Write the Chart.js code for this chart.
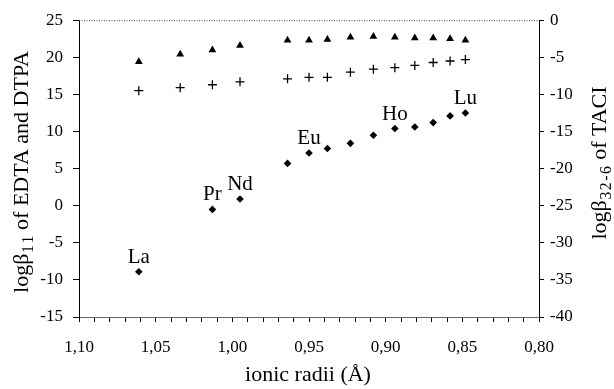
<!DOCTYPE html>
<html>
<head>
<meta charset="UTF-8">
<title>ionic radii vs logβ</title>
<script src="https://cdn.jsdelivr.net/npm/chart.js"></script>
<style>
  body { margin: 0; background: #fff; }
  canvas { display: block; }
</style>
</head>
<body>
<canvas id="chart" width="614" height="389"></canvas>
<script>
  // ionic radii (Å) La..Lu (no Pm)
  const radii = [1.061, 1.034, 1.013, 0.995, 0.964, 0.950, 0.938, 0.923, 0.908, 0.894, 0.881, 0.869, 0.858, 0.848];
  const dtpa = [19.4, 20.4, 21.0, 21.6, 22.3, 22.3, 22.4, 22.7, 22.8, 22.7, 22.6, 22.6, 22.5, 22.3];
  const edta = [15.5, 15.9, 16.3, 16.7, 17.1, 17.3, 17.3, 18.0, 18.4, 18.6, 18.9, 19.3, 19.5, 19.7];
  // TACI (right axis), Ce missing
  const taciRadii = [1.061, 1.013, 0.995, 0.964, 0.950, 0.938, 0.923, 0.908, 0.894, 0.881, 0.869, 0.858, 0.848];
  const taci = [-33.9, -25.5, -24.1, -19.3, -17.9, -17.3, -16.6, -15.5, -14.6, -14.4, -13.8, -12.9, -12.5];
  const taciLabels = ['La', 'Pr', 'Nd', '', 'Eu', '', '', '', 'Ho', '', '', '', 'Lu'];

  const serif = '"Liberation Serif", "Times New Roman", serif';

  const pts = (xs, ys) => xs.map((x, i) => ({ x: x, y: ys[i] }));

  // draws text with a subscript part, centred on (0,0)
  function subText(ctx, parts, size) {
    const subSize = size * 0.72;
    let total = 0;
    const widths = parts.map(p => {
      ctx.font = (p.sub ? subSize : size) + 'px ' + serif;
      const w = ctx.measureText(p.t).width + (p.sub ? p.t.length * 1.5 : 0);
      total += w;
      return w;
    });
    let x = -total / 2;
    parts.forEach((p, i) => {
      ctx.font = (p.sub ? subSize : size) + 'px ' + serif;
      if (p.sub) {
        let sx = x + 0.75;
        for (const ch of p.t) {
          ctx.fillText(ch, sx, size * 0.33);
          sx += ctx.measureText(ch).width + 1.5;
        }
      } else {
        ctx.fillText(p.t, x, 0);
      }
      x += widths[i];
    });
  }

  const titlesPlugin = {
    id: 'titles',
    afterDraw(chart) {
      const ctx = chart.ctx;
      const a = chart.chartArea;
      ctx.save();

      // dotted top frame
      ctx.strokeStyle = '#444';
      ctx.lineWidth = 1;
      ctx.setLineDash([1, 1.5]);
      ctx.beginPath();
      ctx.moveTo(a.left, a.top + 0.5);
      ctx.lineTo(a.right, a.top + 0.5);
      ctx.stroke();
      ctx.setLineDash([]);

      ctx.fillStyle = '#000';
      ctx.textBaseline = 'middle';
      ctx.textAlign = 'left';

      ctx.save();
      ctx.translate(22, 172);
      ctx.rotate(-Math.PI / 2);
      subText(ctx, [{ t: 'logβ' }, { t: '11', sub: true }, { t: ' of EDTA and DTPA' }], 22);
      ctx.restore();

      ctx.save();
      ctx.translate(600, 163);
      ctx.rotate(-Math.PI / 2);
      subText(ctx, [{ t: 'logβ' }, { t: '32-6', sub: true }, { t: ' of TACI' }], 22);
      ctx.restore();

      ctx.save();
      ctx.translate((a.left + a.right) / 2 - 1, 375);
      subText(ctx, [{ t: 'ionic radii (Å)' }], 22);
      ctx.restore();

      // element labels over the TACI points
      const meta = chart.getDatasetMeta(2);
      ctx.font = '21px ' + serif;
      ctx.textAlign = 'center';
      ctx.textBaseline = 'alphabetic';
      meta.data.forEach((p, i) => {
        if (taciLabels[i]) ctx.fillText(taciLabels[i], p.x, p.y - 9);
      });
      ctx.restore();
    }
  };

  const tickFont = { family: serif, size: 17 };

  new Chart(document.getElementById('chart'), {
    type: 'scatter',
    data: {
      datasets: [
        {
          label: 'DTPA',
          data: pts(radii, dtpa),
          pointStyle: 'triangle',
          radius: 4.5,
          backgroundColor: '#000',
          borderColor: '#000',
          borderWidth: 0,
          yAxisID: 'y'
        },
        {
          label: 'EDTA',
          data: pts(radii, edta),
          pointStyle: 'cross',
          radius: 4.5,
          borderColor: '#000',
          borderWidth: 1.3,
          yAxisID: 'y'
        },
        {
          label: 'TACI',
          data: pts(taciRadii, taci),
          pointStyle: 'rectRot',
          radius: 3.8,
          backgroundColor: '#000',
          borderColor: '#000',
          borderWidth: 0,
          yAxisID: 'y1'
        }
      ]
    },
    options: {
      responsive: false,
      animation: false,
      layout: { padding: { top: 20, left: 0, right: 0, bottom: 0 } },
      plugins: { legend: { display: false }, tooltip: { enabled: false } },
      scales: {
        x: {
          type: 'linear',
          position: 'bottom',
          reverse: true,
          min: 0.80,
          max: 1.10,
          afterFit: s => { s.height = 72; },
          afterBuildTicks: s => {
            s.ticks = [];
            for (let i = 80; i <= 110; i++) s.ticks.push({ value: i / 100 });
          },
          ticks: {
            autoSkip: false,
            maxRotation: 0,
            color: '#000',
            font: tickFont,
            padding: 15,
            callback: v => (Math.round(v * 100) % 5 === 0 ? v.toFixed(2).replace('.', ',') : '')
          },
          grid: { drawOnChartArea: false, tickLength: 5, color: '#000' },
          border: { color: '#666', width: 1 }
        },
        y: {
          type: 'linear',
          position: 'left',
          min: -15,
          max: 25,
          afterFit: s => { s.width = 79; },
          ticks: { stepSize: 5, color: '#000', font: tickFont, padding: 10 },
          grid: { drawOnChartArea: false, tickLength: 6, color: '#000' },
          border: { color: '#000', width: 1 }
        },
        y1: {
          type: 'linear',
          position: 'right',
          min: -40,
          max: 0,
          afterFit: s => { s.width = 75; },
          ticks: { stepSize: 5, color: '#000', font: tickFont, padding: 6 },
          grid: { drawOnChartArea: false, tickLength: 5, color: '#000' },
          border: { color: '#000', width: 1 }
        }
      }
    },
    plugins: [titlesPlugin]
  });
</script>
</body>
</html>
